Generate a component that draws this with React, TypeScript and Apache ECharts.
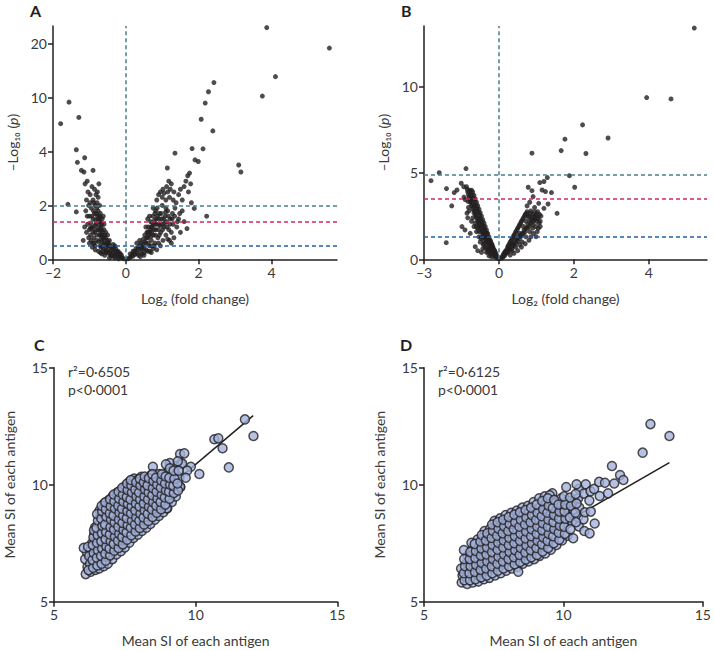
import React, { useEffect, useRef } from "react";
import * as echarts from "echarts";

// Panel A volcano: [log2 fold change, -log10 p]
const volcanoA: number[][] = [
  [-0.05,0.02],[-0.1,0.05],[-0.15,0.08],[-0.2,0.1],[-0.25,0.15],[-0.3,0.2],[-0.35,0.25],[-0.12,0.15],[-0.18,0.25],[-0.22,0.3],
  [-0.28,0.4],[-0.32,0.1],[-0.38,0.15],[-0.42,0.3],[-0.45,0.2],[-0.4,0.45],[-0.35,0.55],[-0.48,0.5],[-0.5,0.35],[-0.52,0.7],
  [-0.55,0.25],[-0.58,0.55],[-0.6,0.8],[-0.62,0.4],[-0.64,1.0],[-0.66,0.65],[-0.68,1.2],[-0.7,0.5],[-0.72,0.9],[-0.74,1.4],
  [-0.75,0.3],[-0.76,1.1],[-0.78,1.6],[-0.8,0.7],[-0.8,1.9],[-0.82,1.3],[-0.84,0.5],[-0.85,1.0],[-0.86,1.7],[-0.88,0.8],
  [-0.9,1.5],[-0.9,2.2],[-0.92,0.45],[-0.94,1.2],[-0.95,1.9],[-0.97,0.9],[-1.0,1.6],[-1.0,0.6],[-1.02,2.0],[-1.05,1.3],
  [-1.08,1.0],[-1.1,1.8],[-0.55,1.0],[-0.6,1.3],[-0.65,1.5],[-0.7,1.7],[-0.72,2.0],[-0.76,2.3],[-0.78,2.5],[-0.74,2.8],
  [-0.82,2.4],[-0.86,2.6],[-0.88,2.1],[-0.93,2.7],[-0.98,2.4],[-1.04,2.5],[-1.08,2.2],[-1.12,2.8],[-1.06,2.9],[-0.9,3.3],
  [-1.15,3.24],[-1.22,3.3],[-1.13,3.77],[-1.33,3.6],[-1.36,4.2],[-1.29,7.8],[-1.56,9.5],[-1.79,7.1],[-1.59,2.04],[-1.36,1.76],
  [-1.17,0.7],[-1.13,1.2],[-0.45,0.7],[-0.5,0.9],[-0.3,0.5],[-0.25,0.3],[-0.58,0.15],[-0.66,0.2],[-0.7,0.25],[-0.84,0.35],
  [-0.6,1.1],[-0.62,1.6],[-0.68,0.9],[-0.7,1.4],[-0.8,1.1],[-0.9,1.0],[-0.95,0.7],[-1.0,1.1],[-0.55,0.45],[-0.4,0.12],
  [-0.45,0.05],[-0.2,0.02],[-0.3,0.05],
  [-0.15,0.2],[-0.25,0.22],[-0.33,0.35],[-0.38,0.4],[-0.43,0.5],[-0.47,0.6],[-0.5,0.65],[-0.53,0.55],[-0.56,0.8],[-0.6,0.6],
  [-0.63,0.75],[-0.65,0.9],[-0.67,1.1],[-0.69,0.75],[-0.71,1.05],[-0.73,1.25],[-0.75,0.65],[-0.77,1.5],[-0.79,0.9],[-0.81,1.7],
  [-0.83,1.45],[-0.85,1.25],[-0.87,0.6],[-0.89,1.8],[-0.91,1.15],[-0.93,1.6],[-0.96,1.35],[-0.98,2.1],[-0.71,1.55],[-0.66,1.3],
  [-0.58,0.9],[-0.52,0.55],[-0.79,2.1],[-0.84,2.0],[-0.76,1.8],[-0.72,1.6],[-0.68,0.45],[-0.62,0.3],[-0.54,0.3],[-0.46,0.25],
  [-0.9,0.6],[-1.02,0.8],[-1.06,1.6],[-0.97,1.15],
  [0.05,0.02],[0.1,0.05],[0.15,0.1],[0.2,0.12],[0.25,0.18],[0.3,0.22],[0.35,0.15],[0.12,0.2],[0.2,0.3],[0.28,0.4],
  [0.35,0.45],[0.4,0.3],[0.42,0.6],[0.45,0.2],[0.48,0.75],[0.5,0.4],[0.52,0.9],[0.55,0.6],[0.58,1.0],[0.6,0.3],
  [0.6,0.8],[0.62,1.2],[0.65,0.5],[0.66,1.0],[0.68,1.4],[0.7,0.7],[0.72,1.2],[0.74,1.6],[0.75,0.4],[0.76,0.9],
  [0.78,1.3],[0.8,1.7],[0.8,0.6],[0.82,1.1],[0.84,1.5],[0.86,1.9],[0.88,0.8],[0.9,1.3],[0.92,1.7],[0.95,0.5],
  [0.96,1.0],[0.98,1.5],[1.0,2.0],[1.02,0.7],[1.05,1.2],[1.08,1.6],[1.1,0.9],[1.12,1.4],[1.15,1.8],[1.18,1.1],
  [1.2,0.7],[1.22,1.5],[1.25,1.0],[1.28,1.7],[1.3,1.3],[1.32,0.8],[1.35,1.9],[1.4,1.2],[1.45,1.5],[1.5,1.0],
  [1.55,1.8],[1.6,1.4],[1.68,1.14],[1.88,1.89],[2.22,1.6],[0.85,2.2],[0.9,2.4],[0.95,2.5],[1.0,2.3],[1.02,2.6],
  [1.05,2.45],[1.1,2.2],[1.12,2.7],[1.15,2.5],[1.18,2.9],[1.2,2.3],[1.22,2.6],[1.25,2.8],[1.3,2.2],[1.32,2.5],
  [1.38,2.1],[1.45,2.4],[1.5,2.6],[1.55,2.2],[1.6,2.7],[1.65,2.9],[1.7,3.1],[1.72,2.5],[1.75,3.2],[1.78,2.8],
  [1.8,2.1],[1.14,3.39],[1.35,3.94],[1.82,4.33],[2.12,4.3],[1.9,3.69],[1.99,3.63],[2.07,7.6],[2.18,9.4],[2.27,11.1],
  [2.42,12.8],[2.39,6.3],[3.1,3.5],[3.16,3.24],[3.75,10.3],[4.11,13.9],[3.87,23.0],[5.59,19.2],[0.4,0.1],[0.5,0.15],
  [0.7,0.25],[0.85,0.35],[0.3,0.6],[0.55,1.2],[0.65,1.6],[0.75,1.9],[0.72,0.5],[0.92,0.9],[1.0,1.3],[1.1,1.9],
  [1.25,0.6],[0.6,1.5],[0.45,0.45],[0.38,0.7],[0.82,1.8],
  [0.18,0.2],[0.24,0.3],[0.32,0.35],[0.37,0.5],[0.43,0.4],[0.47,0.55],[0.52,0.65],[0.57,0.8],[0.62,0.6],[0.64,0.9],
  [0.67,1.1],[0.69,0.85],[0.71,1.0],[0.73,1.35],[0.77,1.1],[0.79,1.45],[0.81,0.9],[0.83,1.3],[0.87,1.6],[0.89,1.1],
  [0.91,1.5],[0.94,1.25],[0.97,1.7],[1.01,1.1],[1.04,1.5],[1.07,1.35],[1.09,1.75],[1.13,1.2],[1.17,1.6],[1.21,1.3],
  [1.27,1.5],[1.34,1.6],[1.42,1.4],[1.48,1.7],[0.56,0.35],[0.66,0.3],[0.78,0.5],[0.9,0.6],[1.15,0.75],[0.5,0.25],
  [0.6,1.0],[0.7,1.2]
];

// Panel B volcano
const volcanoB: number[][] = [
  [-0.05,0.05],[-0.1,0.1],[-0.15,0.2],[-0.12,0.35],[-0.2,0.3],[-0.2,0.55],[-0.25,0.4],[-0.25,0.75],[-0.3,0.5],[-0.3,0.9],
  [-0.35,0.6],[-0.35,1.1],[-0.4,0.7],[-0.4,1.3],[-0.45,0.9],[-0.45,1.5],[-0.5,1.0],[-0.5,1.7],[-0.55,1.2],[-0.55,1.9],
  [-0.6,1.3],[-0.6,2.1],[-0.65,1.5],[-0.65,2.3],[-0.7,1.6],[-0.7,2.5],[-0.75,1.8],[-0.75,2.7],[-0.8,2.0],[-0.8,2.9],
  [-0.85,2.2],[-0.85,3.1],[-0.9,2.4],[-0.9,3.3],[-0.95,2.6],[-0.95,3.5],[-1.0,2.7],[-1.0,3.7],[-1.05,2.9],[-1.05,3.9],
  [-1.1,3.1],[-1.1,4.0],[-1.15,3.3],[-1.2,3.6],[-1.25,3.9],[-1.3,4.2],[-1.28,2.67],[-1.15,1.5],[-0.95,0.73],[-0.85,0.5],
  [-0.7,0.4],[-0.6,0.9],[-0.65,0.6],[-0.5,0.4],[-0.4,0.2],[-0.3,0.15],[-1.36,1.7],[-1.48,1.89],[-2.11,0.96],[-2.72,4.55],
  [-2.39,5.01],[-2.1,4.09],[-1.89,3.09],[-1.79,3.86],[-1.68,4.01],[-1.51,4.4],[-1.32,5.25],[-1.4,3.6],[-1.2,2.8],[-1.1,2.2],
  [-1.0,1.9],[-0.9,1.6],[-0.8,1.3],[-0.75,1.0],[-0.55,0.7],[-0.45,0.45],[-0.35,0.3],[-0.2,0.15],[-1.22,3.0],[-1.12,3.5],
  [-0.98,3.1],[-0.88,2.8],[-0.78,2.3],[-0.68,2.0],[-0.58,1.6],[-0.48,1.3],[-0.38,1.0],[-0.28,0.7],[-0.18,0.45],[-1.35,3.45],
  [-1.25,2.4],[-1.05,2.4],[-0.95,2.1],[-0.85,1.8],[-0.72,1.2],[-0.62,1.1],[-1.41,4.2],[-1.15,3.72],[-1.08,3.43],
  [-0.08,0.2],[-0.14,0.3],[-0.17,0.5],[-0.22,0.45],[-0.23,0.65],[-0.27,0.55],[-0.28,0.85],[-0.32,0.7],[-0.33,1.0],[-0.37,0.8],
  [-0.38,1.15],[-0.42,0.95],[-0.43,1.25],[-0.47,1.1],[-0.48,1.45],[-0.52,1.2],[-0.52,1.55],[-0.57,1.35],[-0.57,1.75],[-0.62,1.45],
  [-0.62,1.9],[-0.67,1.7],[-0.67,2.15],[-0.72,1.85],[-0.73,2.35],[-0.77,2.05],[-0.77,2.55],[-0.82,2.15],[-0.82,2.7],[-0.87,2.4],
  [-0.87,2.95],[-0.92,2.55],[-0.92,3.1],[-0.97,2.8],[-0.97,3.3],[-1.02,3.0],[-1.02,3.5],[-1.07,3.2],[-1.07,3.7],[-1.12,3.4],
  [-1.13,3.9],[-1.18,3.5],[-1.18,4.0],[-1.22,3.75],[-1.27,4.05],[-1.24,3.35],[-0.9,1.9],[-0.8,1.6],[-0.7,1.3],[-0.63,0.85],
  [-0.53,0.65],[-0.42,0.55],[-0.33,0.4],
  [0.05,0.05],[0.1,0.1],[0.12,0.3],[0.15,0.2],[0.2,0.35],[0.2,0.55],[0.25,0.45],[0.25,0.8],[0.3,0.55],[0.3,1.0],
  [0.35,0.65],[0.35,1.2],[0.4,0.8],[0.4,1.4],[0.45,0.95],[0.45,1.6],[0.5,1.05],[0.5,1.8],[0.55,1.2],[0.55,2.0],
  [0.6,1.35],[0.6,2.2],[0.65,1.5],[0.65,2.4],[0.7,1.6],[0.7,2.6],[0.75,1.8],[0.75,2.75],[0.8,1.9],[0.8,2.5],
  [0.85,2.1],[0.85,2.8],[0.9,2.0],[0.9,2.6],[0.95,2.3],[0.95,2.75],[1.0,2.2],[1.0,2.6],[1.05,2.4],[1.1,1.9],
  [0.78,4.17],[0.88,3.97],[0.91,3.63],[1.09,4.44],[1.15,4.01],[1.24,3.92],[1.29,4.73],[1.4,3.86],[1.2,4.5],[1.06,3.24],
  [1.2,2.95],[1.31,3.2],[1.55,2.66],[0.88,6.14],[1.66,6.29],[1.76,6.95],[1.88,4.84],[2.02,4.17],[2.23,7.78],[2.32,6.12],
  [2.91,7.02],[3.94,9.36],[4.59,9.28],[5.21,13.38],[0.99,1.31],[1.05,1.79],[0.75,3.09],[0.82,3.3],[0.95,3.0],[1.12,2.5],
  [1.02,1.6],[0.92,1.5],[0.85,1.3],[0.8,1.1],[0.7,0.9],[0.6,0.7],[0.5,0.5],[0.4,0.35],[0.3,0.25],[0.65,1.9],
  [0.72,2.2],[0.55,1.5],[0.45,1.25],[0.35,0.9],[0.25,0.6],[0.15,0.4],[0.88,2.4],[0.98,1.9],[1.1,2.2],
  [0.08,0.15],[0.13,0.25],[0.17,0.45],[0.22,0.4],[0.23,0.7],[0.27,0.6],[0.28,0.9],[0.32,0.75],[0.33,1.1],[0.37,0.85],
  [0.38,1.3],[0.42,1.0],[0.43,1.5],[0.47,1.15],[0.48,1.7],[0.52,1.3],[0.53,1.9],[0.57,1.4],[0.58,2.1],[0.62,1.5],
  [0.63,2.3],[0.67,1.7],[0.68,2.5],[0.72,1.8],[0.73,2.65],[0.77,2.0],[0.78,2.45],[0.82,2.2],[0.83,2.65],[0.87,2.3],
  [0.92,2.2],[0.93,2.45],[0.97,2.5],[1.02,2.35],[1.03,2.75],[1.07,2.1],[1.08,2.6],[0.62,1.0],[0.72,1.3],[0.82,1.6],
  [0.9,1.8],[0.55,0.85],[0.45,0.7],[0.35,0.5]
];

// Panel C: mean SI pairs
const scatterC: number[][] = [
  [6.12,6.18],[6.18,6.48],[6.1,6.82],[6.16,7.12],[6.05,7.3],
  [6.3,6.28],[6.27,6.62],[6.33,6.9],[6.29,7.22],[6.34,7.5],
  [6.46,6.36],[6.43,6.66],[6.48,6.97],[6.44,7.28],[6.47,7.62],[6.42,7.88],[6.45,8.18],
  [6.6,6.42],[6.63,6.72],[6.58,7.02],[6.62,7.36],[6.59,7.7],[6.64,8.02],[6.6,8.32],[6.63,8.62],[6.61,8.9],
  [6.76,6.52],[6.73,6.8],[6.78,7.12],[6.74,7.42],[6.77,7.76],[6.72,8.08],[6.76,8.42],[6.79,8.7],[6.74,9.0],[6.78,9.2],
  [6.9,6.62],[6.93,6.92],[6.88,7.22],[6.92,7.52],[6.89,7.82],[6.94,8.16],[6.9,8.48],[6.92,8.8],[6.88,9.1],[6.93,9.34],
  [7.06,6.82],[7.03,7.12],[7.08,7.42],[7.04,7.72],[7.07,8.02],[7.02,8.32],[7.06,8.62],[7.09,8.92],[7.04,9.22],[7.07,9.5],
  [7.2,7.02],[7.23,7.32],[7.18,7.62],[7.22,7.92],[7.19,8.22],[7.24,8.52],[7.2,8.82],[7.22,9.12],[7.18,9.42],[7.23,9.66],
  [7.36,7.16],[7.33,7.46],[7.38,7.76],[7.34,8.06],[7.37,8.36],[7.32,8.66],[7.36,8.96],[7.39,9.26],[7.34,9.56],[7.37,9.78],
  [7.5,7.32],[7.53,7.62],[7.48,7.92],[7.52,8.22],[7.49,8.52],[7.54,8.82],[7.5,9.12],[7.52,9.42],[7.48,9.7],[7.53,9.96],
  [7.66,7.52],[7.63,7.82],[7.68,8.12],[7.64,8.42],[7.67,8.72],[7.62,9.02],[7.66,9.32],[7.69,9.62],[7.64,9.9],[7.67,10.14],
  [7.8,7.72],[7.83,8.02],[7.78,8.32],[7.82,8.62],[7.79,8.92],[7.84,9.22],[7.8,9.52],[7.82,9.82],[7.78,10.1],[7.83,10.26],
  [7.96,7.86],[7.93,8.16],[7.98,8.46],[7.94,8.76],[7.97,9.06],[7.92,9.36],[7.96,9.66],[7.99,9.96],[7.94,10.2],
  [8.1,8.02],[8.13,8.32],[8.08,8.62],[8.12,8.92],[8.09,9.22],[8.14,9.52],[8.1,9.82],[8.12,10.1],[8.08,10.34],
  [8.26,8.16],[8.23,8.46],[8.28,8.76],[8.24,9.06],[8.27,9.36],[8.22,9.66],[8.26,9.96],[8.29,10.26],
  [8.4,8.32],[8.43,8.62],[8.38,8.92],[8.42,9.22],[8.39,9.52],[8.44,9.82],[8.4,10.12],[8.42,10.4],
  [8.56,8.5],[8.53,8.8],[8.58,9.1],[8.54,9.4],[8.57,9.7],[8.52,10.0],[8.56,10.3],
  [8.7,8.66],[8.73,8.96],[8.68,9.26],[8.72,9.56],[8.69,9.86],[8.74,10.16],[8.7,10.46],
  [8.86,8.82],[8.83,9.12],[8.88,9.42],[8.84,9.72],[8.87,10.02],[8.82,10.32],
  [9.0,9.0],[9.03,9.3],[8.98,9.6],[9.02,9.9],[8.99,10.2],[9.04,10.56],
  [9.16,9.26],[9.13,9.56],[9.18,9.86],[9.14,10.16],[9.17,10.5],
  [9.3,9.5],[9.33,9.8],[9.28,10.1],[9.32,10.42],[9.29,10.8],
  [9.46,9.9],[9.43,10.3],[9.48,10.9],[9.45,11.31],[9.6,11.34],
  [11.74,12.79],[12.04,12.08],[10.66,11.94],[10.8,11.98],[10.95,11.56],[11.17,10.74],[10.13,10.46],[9.83,10.77],
  [9.53,10.9],[9.09,10.93],[8.95,10.87],[8.49,10.77],[9.45,9.91],[8.98,8.99],[9.7,10.6],[9.65,10.3],
  [6.22,6.35],[6.24,6.95],[6.2,7.35],
  [6.38,6.45],[6.36,6.78],[6.4,7.08],[6.37,7.42],[6.39,7.75],[6.41,8.05],
  [6.53,6.55],[6.51,6.88],[6.55,7.2],[6.52,7.52],[6.54,7.85],[6.5,8.16],[6.55,8.47],[6.52,8.75],
  [6.68,6.62],[6.66,6.96],[6.7,7.27],[6.67,7.58],[6.69,7.92],[6.71,8.24],[6.67,8.55],[6.7,8.86],[6.68,9.1],
  [6.83,6.75],[6.81,7.05],[6.85,7.37],[6.82,7.68],[6.84,7.98],[6.8,8.3],[6.85,8.63],[6.83,8.95],[6.81,9.25],
  [6.98,6.98],[6.96,7.27],[7.0,7.58],[6.97,7.87],[6.99,8.18],[7.01,8.5],[6.97,8.78],[7.0,9.08],[6.98,9.38],
  [7.13,7.18],[7.11,7.47],[7.15,7.78],[7.12,8.08],[7.14,8.38],[7.1,8.68],[7.15,8.98],[7.13,9.28],[7.11,9.58],
  [7.28,7.3],[7.26,7.6],[7.3,7.9],[7.27,8.2],[7.29,8.5],[7.31,8.8],[7.27,9.1],[7.3,9.4],[7.28,9.7],
  [7.43,7.45],[7.41,7.76],[7.45,8.06],[7.42,8.37],[7.44,8.67],[7.4,8.97],[7.45,9.27],[7.43,9.57],[7.41,9.87],
  [7.58,7.65],[7.56,7.96],[7.6,8.27],[7.57,8.57],[7.59,8.87],[7.61,9.17],[7.57,9.47],[7.6,9.77],[7.58,10.05],
  [7.73,7.84],[7.71,8.16],[7.75,8.46],[7.72,8.77],[7.74,9.07],[7.7,9.37],[7.75,9.67],[7.73,9.97],[7.71,10.2],
  [7.88,8.0],[7.86,8.3],[7.9,8.6],[7.87,8.9],[7.89,9.2],[7.91,9.5],[7.87,9.8],[7.9,10.1],
  [8.03,8.15],[8.01,8.46],[8.05,8.76],[8.02,9.07],[8.04,9.37],[8.0,9.67],[8.05,9.97],[8.03,10.25],
  [8.18,8.3],[8.16,8.6],[8.2,8.9],[8.17,9.2],[8.19,9.5],[8.21,9.8],[8.17,10.1],[8.2,10.35],
  [8.33,8.45],[8.31,8.76],[8.35,9.06],[8.32,9.37],[8.34,9.67],[8.3,9.97],[8.35,10.28],
  [8.48,8.62],[8.46,8.94],[8.5,9.25],[8.47,9.55],[8.49,9.85],[8.51,10.15],[8.47,10.45],
  [8.63,8.8],[8.61,9.1],[8.65,9.4],[8.62,9.7],[8.64,10.0],[8.6,10.3],
  [8.78,8.95],[8.76,9.26],[8.8,9.56],[8.77,9.87],[8.79,10.17],[8.81,10.45],
  [8.93,9.15],[8.91,9.45],[8.95,9.75],[8.92,10.05],[8.94,10.35],
  [9.08,9.4],[9.06,9.7],[9.1,10.0],[9.07,10.3],[9.09,10.7],
  [9.23,9.65],[9.21,9.95],[9.25,10.25],[9.22,10.6],
  [9.38,9.75],[9.36,10.05],[9.4,10.6],[9.37,11.0]
];

// Panel D: mean SI pairs
const scatterD: number[][] = [
  [6.35,5.82],[6.38,6.12],[6.33,6.42],
  [6.55,5.76],[6.52,6.06],[6.57,6.36],[6.53,6.66],[6.56,6.96],
  [6.75,5.82],[6.72,6.12],[6.77,6.42],[6.73,6.72],[6.76,7.02],[6.74,7.3],
  [6.95,5.86],[6.92,6.16],[6.97,6.46],[6.93,6.76],[6.96,7.06],[6.94,7.36],[6.92,7.66],
  [7.15,5.96],[7.12,6.26],[7.17,6.56],[7.13,6.86],[7.16,7.16],[7.14,7.46],[7.12,7.76],[7.17,8.02],
  [7.35,6.02],[7.32,6.32],[7.37,6.62],[7.33,6.92],[7.36,7.22],[7.34,7.52],[7.32,7.82],[7.37,8.12],
  [7.55,6.12],[7.52,6.42],[7.57,6.72],[7.53,7.02],[7.56,7.32],[7.54,7.62],[7.52,7.92],[7.57,8.22],[7.53,8.46],
  [7.75,6.22],[7.72,6.52],[7.77,6.82],[7.73,7.12],[7.76,7.42],[7.74,7.72],[7.72,8.02],[7.77,8.32],[7.73,8.56],
  [7.95,6.32],[7.92,6.62],[7.97,6.92],[7.93,7.22],[7.96,7.52],[7.94,7.82],[7.92,8.12],[7.97,8.42],[7.93,8.7],
  [8.15,6.42],[8.12,6.72],[8.17,7.02],[8.13,7.32],[8.16,7.62],[8.14,7.92],[8.12,8.22],[8.17,8.52],[8.13,8.8],
  [8.35,6.48],[8.32,6.82],[8.37,7.12],[8.33,7.42],[8.36,7.72],[8.34,8.02],[8.32,8.32],[8.37,8.62],[8.33,8.9],
  [8.55,6.62],[8.52,6.92],[8.57,7.22],[8.53,7.52],[8.56,7.82],[8.54,8.12],[8.52,8.42],[8.57,8.72],[8.53,9.02],
  [8.75,6.72],[8.72,7.02],[8.77,7.32],[8.73,7.62],[8.76,7.92],[8.74,8.22],[8.72,8.52],[8.77,8.82],[8.73,9.1],
  [8.95,6.82],[8.92,7.12],[8.97,7.42],[8.93,7.72],[8.96,8.02],[8.94,8.32],[8.92,8.62],[8.97,8.92],[8.93,9.26],
  [9.15,6.96],[9.12,7.26],[9.17,7.56],[9.13,7.86],[9.16,8.16],[9.14,8.46],[9.12,8.76],[9.17,9.06],[9.13,9.42],
  [9.35,7.06],[9.32,7.36],[9.37,7.66],[9.33,7.96],[9.36,8.26],[9.34,8.56],[9.32,8.86],[9.37,9.16],[9.33,9.5],
  [9.55,7.22],[9.52,7.52],[9.57,7.82],[9.53,8.12],[9.56,8.42],[9.54,8.72],[9.52,9.02],[9.57,9.32],[9.6,9.63],
  [9.75,7.42],[9.72,7.72],[9.77,8.02],[9.73,8.32],[9.76,8.62],[9.74,8.92],[9.72,9.22],
  [9.95,7.62],[9.92,7.92],[9.97,8.22],[9.93,8.52],[9.96,8.82],[9.94,9.12],[9.92,9.42],
  [10.15,7.82],[10.12,8.32],[10.17,8.72],[10.13,9.02],[10.16,9.32],[10.1,9.9],
  [10.35,7.71],[10.32,8.42],[10.37,8.92],[10.33,9.22],
  [10.55,8.22],[10.52,8.62],[10.57,9.02],[10.53,9.42],[10.56,9.82],
  [10.75,8.02],[10.72,8.52],[10.77,8.82],[10.73,9.62],[10.8,10.02],
  [10.94,7.92],[10.98,8.85],[10.93,9.32],[10.97,9.72],
  [11.12,8.34],[11.1,9.82],[11.3,9.52],[11.28,10.12],
  [13.12,12.59],[13.8,12.08],[12.84,11.37],[11.74,10.8],[12.03,10.41],[12.15,10.2],[11.49,10.08],[11.82,10.05],
  [10.47,10.02],[9.51,9.55],[6.43,7.21],[6.7,7.52],[8.38,6.28],[11.6,9.63],
  [6.45,5.92],[6.43,6.22],[6.47,6.52],[6.44,6.82],
  [6.65,5.92],[6.63,6.22],[6.67,6.52],[6.64,6.82],[6.66,7.12],
  [6.85,5.96],[6.83,6.27],[6.87,6.57],[6.84,6.87],[6.86,7.17],[6.82,7.47],
  [7.05,6.05],[7.03,6.36],[7.07,6.66],[7.04,6.97],[7.06,7.27],[7.02,7.57],[7.07,7.85],
  [7.25,6.12],[7.23,6.42],[7.27,6.72],[7.24,7.02],[7.26,7.32],[7.22,7.62],[7.27,7.92],
  [7.45,6.22],[7.43,6.52],[7.47,6.82],[7.44,7.12],[7.46,7.42],[7.42,7.72],[7.47,8.02],[7.44,8.3],
  [7.65,6.32],[7.63,6.62],[7.67,6.92],[7.64,7.22],[7.66,7.52],[7.62,7.82],[7.67,8.12],[7.64,8.4],
  [7.85,6.42],[7.83,6.72],[7.87,7.02],[7.84,7.32],[7.86,7.62],[7.82,7.92],[7.87,8.22],[7.84,8.5],
  [8.05,6.52],[8.03,6.82],[8.07,7.12],[8.04,7.42],[8.06,7.72],[8.02,8.02],[8.07,8.32],[8.04,8.62],
  [8.25,6.6],[8.23,6.9],[8.27,7.2],[8.24,7.5],[8.26,7.8],[8.22,8.1],[8.27,8.4],[8.24,8.72],
  [8.45,6.7],[8.43,7.0],[8.47,7.3],[8.44,7.6],[8.46,7.9],[8.42,8.2],[8.47,8.5],[8.44,8.82],
  [8.65,6.8],[8.63,7.1],[8.67,7.4],[8.64,7.7],[8.66,8.0],[8.62,8.3],[8.67,8.6],[8.64,8.92],
  [8.85,6.9],[8.83,7.2],[8.87,7.5],[8.84,7.8],[8.86,8.1],[8.82,8.4],[8.87,8.7],[8.84,9.02],
  [9.05,7.0],[9.03,7.3],[9.07,7.6],[9.04,7.9],[9.06,8.2],[9.02,8.5],[9.07,8.8],[9.04,9.15],
  [9.25,7.15],[9.23,7.45],[9.27,7.75],[9.24,8.05],[9.26,8.35],[9.22,8.65],[9.27,8.95],[9.24,9.3],
  [9.45,7.3],[9.43,7.6],[9.47,7.9],[9.44,8.2],[9.46,8.5],[9.42,8.8],[9.47,9.1],[9.44,9.42],
  [9.65,7.5],[9.63,7.8],[9.67,8.1],[9.64,8.4],[9.66,8.7],[9.62,9.0],[9.67,9.35],
  [9.85,7.65],[9.83,7.95],[9.87,8.25],[9.84,8.55],[9.86,8.85],[9.82,9.15],
  [10.05,7.9],[10.03,8.2],[10.07,8.55],[10.04,8.85],[10.06,9.15],[10.02,9.5],
  [10.25,8.1],[10.23,8.6],[10.27,9.1],[10.24,9.45],
  [10.45,8.4],[10.43,8.8],[10.47,9.2],[10.44,9.6]
];

const thresholdsA = [1.98, 1.4, 0.51];
const thresholdsB = [4.92, 3.51, 1.29];
const fitC = [[6.2, 6.97], [12.03, 12.95]];
const fitD = [[6.3, 5.8], [13.8, 10.94]];
const yTickLabelsA = ["0", "2", "4", "10", "20"];

// piecewise (broken) y scale of panel A: 0-2, 2-4, 4-10, 10-20 take equal space
function tA(v: number): number {
  if (v <= 2) return v / 2;
  if (v <= 4) return 1 + (v - 2) / 2;
  if (v <= 10) return 2 + (v - 4) / 6;
  return 3 + (v - 10) / 10;
}
// panel B x scale: negative side is compressed (−3 sits where −2 would be)
function tB(x: number): number {
  return x < 0 ? (x * 2) / 3 : x;
}

const INK = "#231f20";
const FONT = "Lato";
const LABEL = "#3a3a3a";
const thrColors = ["#4b7d8c", "#d0285a", "#1f5fa6"];

function labelStyle(extra: any = {}) {
  return {
    color: LABEL,
    fontSize: 14,
    fontFamily: FONT,
    margin: 5,
    formatter: (v: number) => String(v).replace("-", "\u2013"),
    ...extra,
  };
}

function axisBase(extra: any) {
  return {
    type: "value",
    splitLine: { show: false },
    axisLine: { show: true, onZero: false, lineStyle: { color: INK, width: 1.5 } },
    axisTick: { show: true, length: 5, lineStyle: { color: INK, width: 1.5 } },
    axisLabel: labelStyle(),
    nameLocation: "middle",
    nameTextStyle: { color: LABEL, fontSize: 14, fontFamily: FONT },
    ...extra,
  };
}

function markLines(vals: number[], tf: (v: number) => number) {
  return {
    silent: true,
    symbol: ["none", "none"],
    label: { show: false },
    animation: false,
    data: [
      ...vals.map((v, i) => ({
        yAxis: tf(v),
        lineStyle: { color: thrColors[i], type: [4, 3], width: 1.5 },
      })),
      { xAxis: 0, lineStyle: { color: thrColors[0], type: [4, 3], width: 1.5 } },
    ],
  };
}

const pNameStyle = {
  color: LABEL, fontSize: 14, fontFamily: FONT,
  rich: { i: { fontStyle: "italic", fontSize: 14, fontFamily: FONT, color: LABEL } },
};

export default function App() {
  const ref = useRef<HTMLDivElement>(null);
  useEffect(() => {
    if (!ref.current) return;
    const chart = echarts.init(ref.current, undefined, { renderer: "svg" });
    const gridTop2 = 367.7;
    const xLab = (extra: any = {}) => labelStyle({ margin: 6, ...extra });
    const yLab = (extra: any = {}) => labelStyle({ margin: 6, ...extra });
    const option: any = {
      animation: false,
      backgroundColor: "#ffffff",
      grid: [
        { left: 53, top: 26, width: 284, height: 233.3 },
        { left: 424, top: 26, width: 283, height: 233.3 },
        { left: 54, top: gridTop2, width: 283.3, height: 234 },
        { left: 424, top: gridTop2, width: 283, height: 234 },
      ],
      xAxis: [
        axisBase({
          gridIndex: 0, min: -2, max: 5.8, interval: 2, name: "Log\u2082 (fold change)", nameGap: 32,
          axisLabel: xLab({ showMaxLabel: false }),
        }),
        axisBase({
          gridIndex: 1, min: -2, max: 5.55, interval: 2, name: "Log\u2082 (fold change)", nameGap: 32,
          axisLabel: xLab({
            showMaxLabel: false,
            formatter: (v: number) => String(v < 0 ? v * 1.5 : v).replace("-", "\u2013"),
          }),
        }),
        axisBase({ gridIndex: 2, min: 5, max: 15, interval: 5, name: "Mean SI of each antigen", nameGap: 32, axisLabel: xLab() }),
        axisBase({ gridIndex: 3, min: 5, max: 15, interval: 5, name: "Mean SI of each antigen", nameGap: 32, axisLabel: xLab() }),
      ],
      yAxis: [
        axisBase({
          gridIndex: 0, min: 0, max: 4.33, interval: 1,
          name: "\u2013Log\u2081\u2080 ({i|p})", nameGap: 34, nameTextStyle: pNameStyle,
          axisLabel: yLab({
            showMaxLabel: false,
            formatter: (v: number) => yTickLabelsA[Math.round(v)] ?? "",
          }),
        }),
        axisBase({
          gridIndex: 1, min: 0, max: 13.5, interval: 5,
          name: "\u2013Log\u2081\u2080 ({i|p})", nameGap: 34, nameTextStyle: pNameStyle,
          axisLabel: yLab({ showMaxLabel: false }),
        }),
        axisBase({ gridIndex: 2, min: 5, max: 15, interval: 5, name: "Mean SI of each antigen", nameGap: 38, axisLabel: yLab() }),
        axisBase({ gridIndex: 3, min: 5, max: 15, interval: 5, name: "Mean SI of each antigen", nameGap: 38, axisLabel: yLab() }),
      ],
      series: [
        {
          type: "scatter", xAxisIndex: 0, yAxisIndex: 0, symbolSize: 5,
          itemStyle: { color: INK },
          data: volcanoA.map(([x, y]) => [x, tA(y)]),
          markLine: markLines(thresholdsA, tA),
        },
        {
          type: "scatter", xAxisIndex: 1, yAxisIndex: 1, symbolSize: 5,
          itemStyle: { color: INK },
          data: volcanoB.map(([x, y]) => [tB(x), y]),
          markLine: markLines(thresholdsB, (v) => v),
        },
        {
          type: "line", xAxisIndex: 2, yAxisIndex: 2, symbol: "none", z: 1,
          lineStyle: { color: INK, width: 1.5 }, data: fitC,
        },
        {
          type: "scatter", xAxisIndex: 2, yAxisIndex: 2, symbolSize: 9, z: 3,
          itemStyle: { color: "#a2b3dc", borderColor: INK, borderWidth: 1.5 },
          data: scatterC,
        },
        {
          type: "line", xAxisIndex: 3, yAxisIndex: 3, symbol: "none", z: 1,
          lineStyle: { color: INK, width: 1.5 }, data: fitD,
        },
        {
          type: "scatter", xAxisIndex: 3, yAxisIndex: 3, symbolSize: 9, z: 3,
          itemStyle: { color: "#a2b3dc", borderColor: INK, borderWidth: 1.5 },
          data: scatterD,
        },
      ],
      graphic: [
        { type: "text", left: 30, top: 2, style: { text: "A", fontSize: 16, fontWeight: "bold", fontFamily: FONT, fill: INK } },
        { type: "text", left: 401, top: 2, style: { text: "B", fontSize: 16, fontWeight: "bold", fontFamily: FONT, fill: INK } },
        { type: "text", left: 34, top: 336, style: { text: "C", fontSize: 16, fontWeight: "bold", fontFamily: FONT, fill: INK } },
        { type: "text", left: 400, top: 336, style: { text: "D", fontSize: 16, fontWeight: "bold", fontFamily: FONT, fill: INK } },
        { type: "text", left: 68, top: 364, style: { text: "r\u00b2=0\u00b76505", fontSize: 14, fontFamily: FONT, fill: LABEL } },
        { type: "text", left: 68, top: 382, style: { text: "p<0\u00b70001", fontSize: 14, fontFamily: FONT, fill: LABEL } },
        { type: "text", left: 438, top: 364, style: { text: "r\u00b2=0\u00b76125", fontSize: 14, fontFamily: FONT, fill: LABEL } },
        { type: "text", left: 438, top: 382, style: { text: "p<0\u00b70001", fontSize: 14, fontFamily: FONT, fill: LABEL } },
      ],
    };
    chart.setOption(option);
    return () => chart.dispose();
  }, []);
  return (
    <div
      ref={ref}
      style={{ position: "absolute", left: 0, top: 0, width: 714, height: 651, background: "#fff" }}
    />
  );
}
